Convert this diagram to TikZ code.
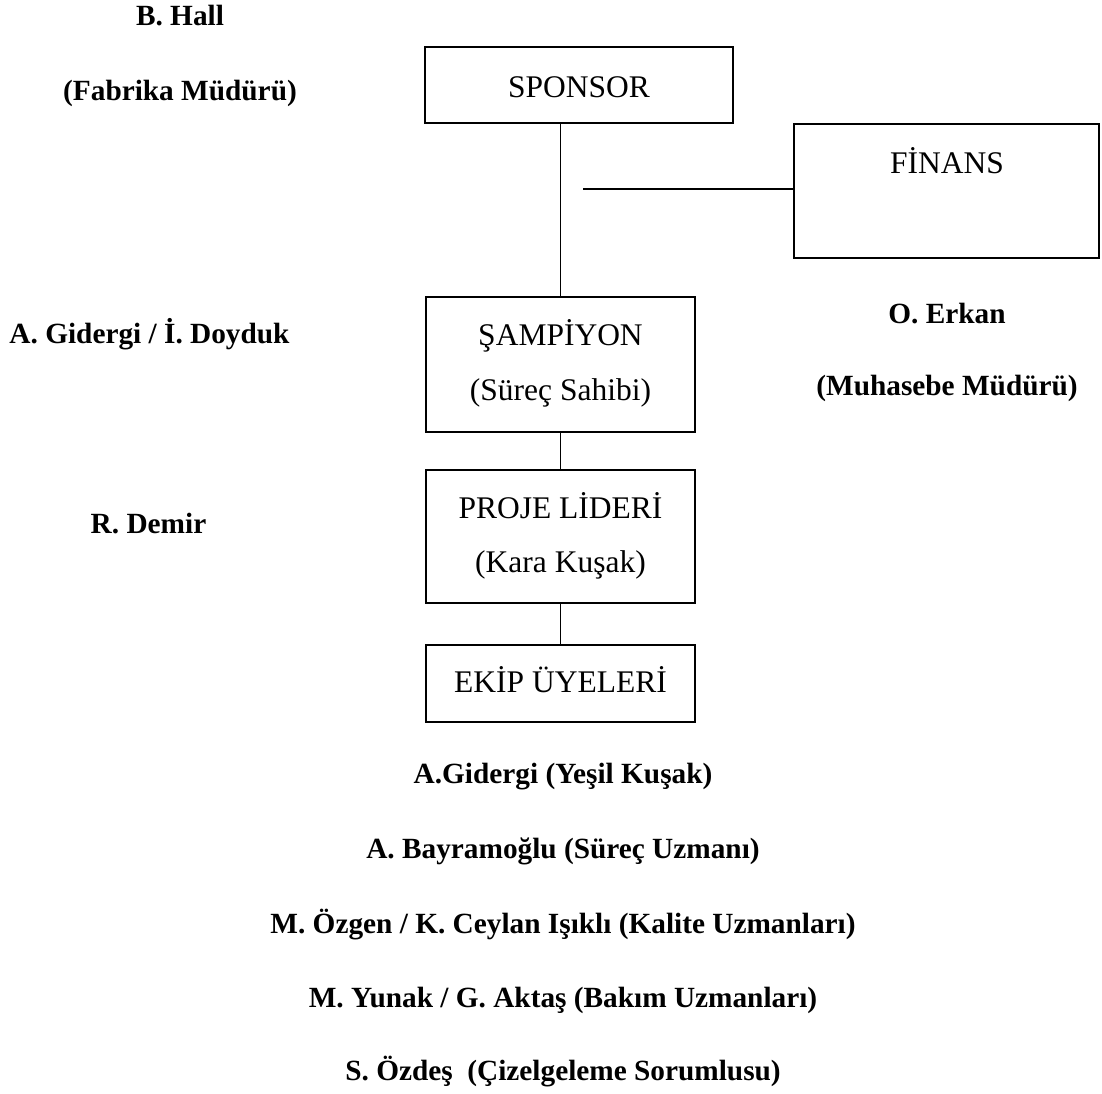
\documentclass[tikz,border=0pt]{standalone}
\usepackage{fontspec}
\setmainfont{Liberation Serif}
\begin{document}
\begin{tikzpicture}[x=1pt,y=-1pt,
  orgbox/.style={draw,line width=1.4pt,rectangle,inner sep=0pt},
  boxtext/.style={anchor=base,inner sep=0pt,font=\fontsize{31.5}{36}\selectfont},
  person/.style={anchor=base,inner sep=0pt,font=\fontsize{29.3}{34}\selectfont\bfseries},
  link/.style={line width=1.4pt}]
\useasboundingbox (0,0) rectangle (1102,1093);

% organisation boxes
\node[orgbox,minimum width=308pt,minimum height=76pt]  (sponsor)  at (579,85) {};
\node[orgbox,minimum width=305pt,minimum height=134pt] (finans)   at (946.5,191) {};
\node[orgbox,minimum width=269pt,minimum height=135pt] (sampiyon) at (560.5,364.5) {};
\node[orgbox,minimum width=269pt,minimum height=133pt] (proje)    at (560.5,536.5) {};
\node[orgbox,minimum width=269pt,minimum height=77pt]  (ekip)     at (560.5,683.5) {};

% box titles
\node[boxtext] (tsponsor) at (579,97) {SPONSOR};
\node[boxtext] (tfinans) at (947,173) {FİNANS};
\node[boxtext] (tsamp1) at (560.5,345) {ŞAMPİYON};
\node[boxtext] (tsamp2) at (560.5,400) {(Süreç Sahibi)};
\node[boxtext] (tproje1) at (560.5,518) {PROJE LİDERİ};
\node[boxtext] (tproje2) at (560.5,572) {(Kara Kuşak)};
\node[boxtext] (tekip) at (560.5,692) {EKİP ÜYELERİ};

% connectors
\draw[link] (sampiyon.north |- sponsor.south) -- (sampiyon.north);
\draw[link] (sampiyon) -- (proje);
\draw[link] (proje) -- (ekip);
\coordinate (finstub) at (583,189);
\draw[link] (finstub) -- (finstub -| finans.west);

% people
\node[person] (hall) at (180,25) {B. Hall};
\node[person] (hallrole) at (180,100) {(Fabrika Müdürü)};
\node[person] (champs) at (149.5,343) {A. Gidergi / İ. Doyduk};
\node[person] (demir) at (148.5,533) {R. Demir};
\node[person] (erkan) at (947,323) {O. Erkan};
\node[person] (erkanrole) at (947,395) {(Muhasebe Müdürü)};

% team members
\node[person] (m1) at (563,783) {A.Gidergi (Yeşil Kuşak)};
\node[person] (m2) at (563,858) {A. Bayramoğlu (Süreç Uzmanı)};
\node[person] (m3) at (563,933) {M. Özgen / K. Ceylan Işıklı (Kalite Uzmanları)};
\node[person] (m4) at (563,1007) {M. Yunak / G. Aktaş (Bakım Uzmanları)};
\node[person] (m5) at (563,1080) {S. Özdeş~ (Çizelgeleme Sorumlusu)};
\end{tikzpicture}
\end{document}
